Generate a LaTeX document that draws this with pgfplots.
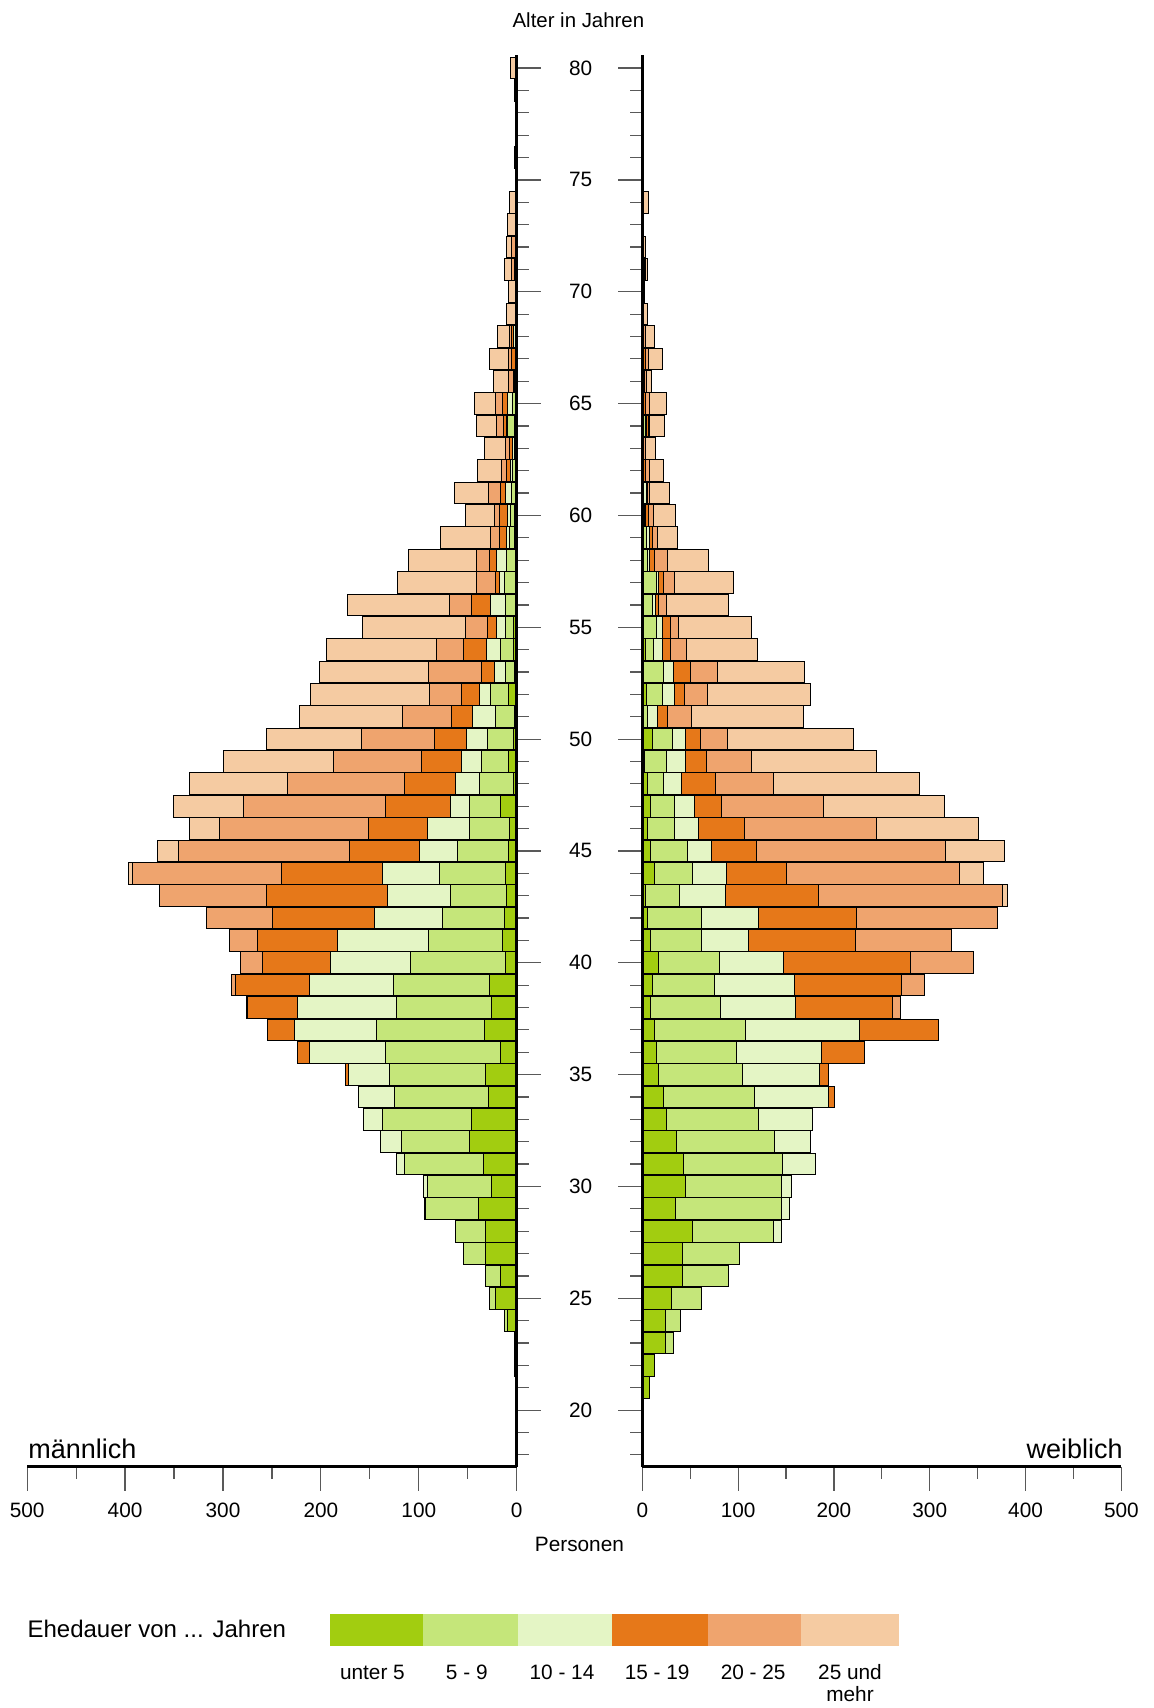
\documentclass[border=0pt]{standalone}
\usepackage{pgfplots}
\usepackage{pgfplotstable}
\usepackage{fontspec}
\setmainfont{Liberation Sans}
\pgfplotsset{compat=1.18}
\definecolor{cA}{HTML}{A2CD10}
\definecolor{cB}{HTML}{C5E67A}
\definecolor{cC}{HTML}{E4F5C5}
\definecolor{cD}{HTML}{E67819}
\definecolor{cE}{HTML}{EFA46E}
\definecolor{cF}{HTML}{F5CBA2}

\pgfplotstableread{
age u5 v5 v10 v15 v20 v25
80 0 0 0 0 0 6
79 0 0 0 0 0 2
78 0 0 0 0 0 1
77 0 0 0 0 0 0.5
76 0 0 0 0 0 2
75 0 0 0 0 0 0
74 0 0 0 0 1 6
73 0 0 0 0 0 9.5
72 0 0 0 1 4 5.5
71 0 0 0 2 3 7.5
70 0 0 0 0 0 8.5
69 0 0 0 0 0 10.5
68 0 1 2 2.4 2.4 11.6
67 0 0 0 5.5 3 19.4
66 0 1 1 1.7 4.4 16
65 0 4.5 5 5 7.5 21.5
64 2.4 6.8 1.7 2.7 6.8 21
63 0 2.4 1.7 3.4 3.7 22
62 0 4 2 4 6 23.8
61 0 5 6 5.8 12 34.7
60 2.4 4.4 2.7 8.2 5.4 29
59 2.4 5 2.7 7.8 9.2 51
58 0 10.2 10.2 7.8 12.6 69.5
57 1.7 11.2 5 4 18.7 81.4
56 0 11.9 15.3 18.7 22.8 104.2
55 3.4 7.8 9.2 9.5 22.1 105.6
54 3.4 12.9 14.3 23.8 27.9 112.4
53 2.4 8.9 10.9 13.6 54.5 110.7
52 8.5 18.7 10.9 18 33 121.6
51 2.7 19.4 23.2 21.1 50.4 105.2
50 3.4 26.6 21.1 33 74.9 97
49 8.5 27.2 20.4 40.9 90.3 112.4
48 3.4 34.7 24.2 51.8 120.2 99.8
47 16.3 32.4 18.4 66.8 145.4 70.8
46 7.5 40.9 42.9 59.6 152.2 31
45 8.5 51.8 39.2 71.5 174 22.1
44 11.9 67.4 57.6 103.2 152.6 3.4
43 10.2 56.9 65 123.3 109 0
42 12.9 62.7 69.8 104.2 67.4 0
41 14.6 75.6 93 81.7 28.3 0
40 11.9 96.4 81.4 70.2 22.1 0
39 27.9 98 86.2 74.9 4 0
38 26.2 96.4 101.5 50.7 1 0
37 32.4 110.7 84.1 27.2 0 0
36 17 116.8 78.3 12.3 0 0
35 31.7 98.4 41.6 2.7 0 0
34 29 96 36.1 0 0 0
33 46 90.9 19.1 0 0 0
32 47.7 69.8 21.1 0 0 0
31 34.1 80 8.5 0 0 0
30 25.5 65.7 4 0 0 0
29 39.2 53.5 1 0 0 0
28 31.7 31.3 0 0 0 0
27 31.7 22.8 0 0 0 0
26 17 14.6 0 0 0 0
25 21.5 5.8 0 0 0 0
24 9.5 3.4 0 0 0 0
23 2.7 0 0 0 0 0
22 2.7 0 0 0 0 0
21 0 0 0 0 0 0
}\male

\pgfplotstableread{
age u5 v5 v10 v15 v20 v25
80 0 0 0 0 0 0
79 0 0 0 0 0 0
78 0 0 0 0 0 1.5
77 0 0 0 0 0 0
76 0 0 0 0 0 0
75 0 0 0 0 0 1
74 0 0 0 0 0 6.5
73 0 0 0 0 0 0
72 0 0 0 0 0 3
71 0 1 0 1 1 2
70 0 0 0 0 0 2
69 0 0 0 0 1 4
68 0 0 0 1.5 1.5 10
67 0 0 0 3 3.5 14.5
66 0 0 0 2 2 6
65 0 0 0 3 4.5 17.5
64 0 3 1 2 2 15
63 0 0 0 1.5 1.5 10.5
62 0 1 0 2 5 14.3
61 0 0 4 1 2.5 21
60 0.8 1.5 1.5 2.5 5.9 22.6
59 0 4.2 3.5 2.8 5.2 20.9
58 0 5.2 2.4 5.2 13.9 42.1
57 0 14.6 2.8 5.2 11.1 61.3
56 0 10.4 3.5 3.5 7.7 64.8
55 0 14.6 6.3 8.7 8 76.6
54 3.5 7.7 9.7 8.7 16.4 74.2
53 1 21.6 10.4 17.4 27.9 91.2
52 4.2 16.7 12.2 11.1 23.7 107.9
51 1 4.9 9.7 11.1 24.7 116.6
50 10.4 20.9 13.9 15.7 27.9 131.6
49 2.8 22.3 20.2 21.6 47.4 130.2
48 5.9 16.7 18.5 34.8 60.6 152.5
47 8.7 25.1 20.2 28.9 105.8 127.1
46 5.9 27.2 25.1 48 138.6 105.8
45 8.7 38.3 25.1 47 197.8 61.3
44 13.2 39.7 35.2 62.3 180.4 25.1
43 3.5 35.5 48 96.4 192.5 5.2
42 5.9 56.1 59.2 102.4 147.3 0
41 8.7 53.3 48.4 112.5 99.9 0
40 16.7 63.4 67.2 132.3 66.2 0
39 11.1 64.4 83.6 111.8 24 0
38 8.7 72.4 79 101 8 0
37 12.9 94.4 119.1 82.9 0 0
36 15 83.2 89.1 44.2 0 0
35 16.7 87.7 80.8 9.1 0 0
34 21.9 95.4 77 5.9 0 0
33 25.1 96.1 56.4 0 0 0
32 35.9 102.4 36.9 0 0 0
31 42.8 103.4 34.1 0 0 0
30 45.3 100.3 10.4 0 0 0
29 34.8 110.7 8.4 0 0 0
28 52.2 84.3 8.7 0 0 0
27 41.8 59.9 0 0 0 0
26 41.8 48 0 0 0 0
25 30.6 31.3 0 0 0 0
24 23.7 16.4 0 0 0 0
23 23.7 8.7 0 0 0 0
22 13.2 0 0 0 0 0
21 7.7 0 0 0 0 0
}\female

\pgfplotsset{
  pyr/.style={
    scale only axis, height=706pt,
    xbar stacked, bar width=0.97,
    xmin=0, xmax=500, ymin=17.47, ymax=80.6,
    axis on top,
    axis line style={line width=1.8pt},
    xtick={0,100,...,500}, minor xtick={50,150,...,450},
    xticklabels={0,100,200,300,400,500},
    ytick={20,25,...,80}, minor ytick={18,...,80},
    tick align=outside,
    major tick length=12pt, minor tick length=6pt,
    every tick/.style={line width=0.6pt, black!65},
    tick label style={font=\fontsize{10.4}{12}\selectfont},
    xticklabel style={yshift=-2.6pt},
    every axis plot/.append style={draw=black, line width=0.5pt},
  }
}

\begin{document}
\begin{tikzpicture}
\useasboundingbox (0,0) rectangle (576.5pt,854pt);

\begin{axis}[pyr,
  at={(13.6pt,120.65pt)}, anchor=south west, width=244.75pt,
  x dir=reverse,
  axis x line*=bottom, axis y line*=right,
  yticklabels={20,25,30,35,40,45,50,55,60,65,70,75,80},
  yticklabel style={anchor=center, xshift=20pt},
]
\addplot[fill=cA] table[x=u5, y=age] {\male};
\addplot[fill=cB] table[x=v5, y=age] {\male};
\addplot[fill=cC] table[x=v10, y=age] {\male};
\addplot[fill=cD] table[x=v15, y=age] {\male};
\addplot[fill=cE] table[x=v20, y=age] {\male};
\addplot[fill=cF] table[x=v25, y=age] {\male};
\end{axis}

\begin{axis}[pyr,
  at={(321.15pt,120.65pt)}, anchor=south west, width=239.55pt,
  axis x line*=bottom, axis y line*=left,
  yticklabels={},
]
\addplot[fill=cA] table[x=u5, y=age] {\female};
\addplot[fill=cB] table[x=v5, y=age] {\female};
\addplot[fill=cC] table[x=v10, y=age] {\female};
\addplot[fill=cD] table[x=v15, y=age] {\female};
\addplot[fill=cE] table[x=v20, y=age] {\female};
\addplot[fill=cF] table[x=v25, y=age] {\female};
\end{axis}

\node[font=\fontsize{10.2}{12}\selectfont] at (289.2pt,844pt) {Alter in Jahren};
\node[font=\fontsize{10.4}{12}\selectfont] at (289.7pt,81.7pt) {Personen};
\node[font=\fontsize{13.5}{15}\selectfont, anchor=base west, inner sep=0pt] at (14pt,124.5pt) {männlich};
\node[font=\fontsize{13.5}{15}\selectfont, anchor=base east, inner sep=0pt] at (561.5pt,124.5pt) {weiblich};

\node[font=\fontsize{12}{14}\selectfont, anchor=west, inner sep=0pt] at (13.6pt,39.3pt) {Ehedauer von ... Jahren};
\fill[cA] (165.1pt,31pt) rectangle (211.4pt,47pt);
\fill[cB] (211.4pt,31pt) rectangle (258.8pt,47pt);
\fill[cC] (258.8pt,31pt) rectangle (306.2pt,47pt);
\fill[cD] (306.2pt,31pt) rectangle (354.2pt,47pt);
\fill[cE] (354.2pt,31pt) rectangle (400.5pt,47pt);
\fill[cF] (400.5pt,31pt) rectangle (449.5pt,47pt);
\begin{scope}[every node/.style={font=\fontsize{10.4}{12}\selectfont, anchor=base, inner sep=0pt}]
\node at (186.2pt,14.3pt) {unter 5};
\node at (233.4pt,14.3pt) {5 - 9};
\node at (281pt,14.3pt) {10 - 14};
\node at (328.6pt,14.3pt) {15 - 19};
\node at (376.6pt,14.3pt) {20 - 25};
\node at (425pt,14.3pt) {25 und};
\node at (425pt,3.3pt) {mehr};
\end{scope}
\end{tikzpicture}
\end{document}
